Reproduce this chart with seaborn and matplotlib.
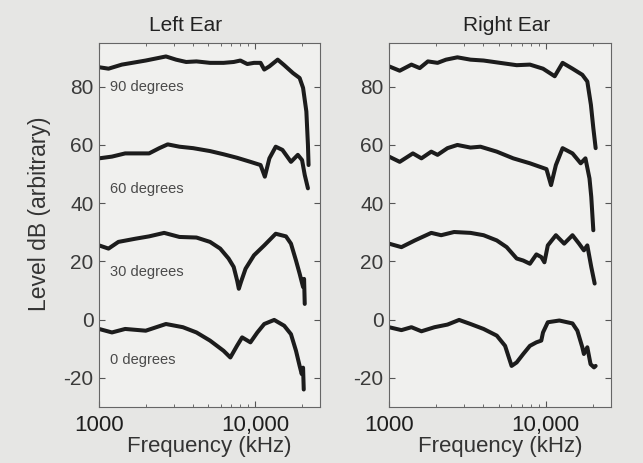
import matplotlib
matplotlib.use("Agg")
import matplotlib.pyplot as plt
import seaborn as sns
import pandas as pd
from matplotlib.ticker import FixedLocator, NullFormatter, LogLocator

# ---------------- data (frequency as labelled on the axis, level in dB) -------------
left_90_f = [1000, 1150, 1400, 1630, 1990, 2310, 2680, 3110, 3610, 4200, 5130, 6260, 7270,
             8020, 8880, 9800, 10800, 11400, 12300, 13900, 15300, 17400, 19200, 20200,
             21200, 21700, 21900]
left_90_db = [86.7, 86.2, 87.6, 88.2, 89.0, 89.7, 90.4, 89.3, 88.5, 88.7, 88.2, 88.2, 88.5,
              89.0, 87.8, 88.2, 88.2, 85.9, 87.0, 89.3, 87.4, 84.7, 83.0, 79.6,
              71.5, 60.0, 53.1]

left_60_f = [1000, 1210, 1470, 2090, 2430, 2750, 3270, 4000, 5130, 6260, 7630, 9300, 10800,
             11500, 12300, 13500, 14900, 16900, 18700, 19900, 20700, 21700]
left_60_db = [55.4, 56.0, 57.1, 57.1, 58.9, 60.2, 59.4, 58.9, 57.9, 56.8, 55.6, 54.2, 53.1,
              49.1, 55.4, 59.4, 58.3, 54.2, 56.6, 54.8, 49.7, 45.1]

left_30_f = [1000, 1150, 1330, 1710, 2090, 2610, 3270, 4200, 5130, 5960, 6740, 7270, 7650,
             7840, 8100, 8660, 9800, 11400, 13500, 15700, 16900, 18200, 19200, 19800, 20200,
             20500, 20700]
left_30_db = [25.5, 24.4, 26.7, 27.8, 28.6, 29.8, 28.4, 28.2, 26.7, 24.4, 21.0, 18.1, 13.4,
              10.6, 13.0, 17.5, 22.1, 25.5, 29.5, 28.6, 26.1, 20.3, 15.8, 13.0, 11.2,
              14.0, 5.4]

left_0_f = [1000, 1210, 1470, 1990, 2680, 3440, 4200, 5130, 6260, 6920, 7630, 8230, 9300,
            10300, 11400, 13200, 15300, 16900, 18200, 19200, 19800, 20200, 20400]
left_0_db = [-3.2, -4.4, -3.2, -3.8, -1.5, -2.6, -4.4, -7.2, -10.7, -13.0, -9.0, -6.1, -7.8,
             -4.4, -1.5, -0.1, -2.1, -5.0, -10.7, -15.9, -18.7, -16.5, -24.0]

right_90_f = [1000, 1170, 1390, 1570, 1770, 2040, 2310, 2730, 3310, 4010, 5110, 6520, 7920,
              9600, 11400, 12800, 14800, 17100, 18400, 19400, 20100, 20800]
right_90_db = [87.0, 85.5, 87.6, 86.4, 88.7, 88.2, 89.3, 90.1, 89.3, 89.0, 88.2, 87.4, 87.6,
               86.2, 83.6, 88.2, 86.2, 84.1, 81.8, 73.8, 65.8, 58.9]

right_60_f = [1000, 1170, 1420, 1610, 1860, 2040, 2360, 2730, 3310, 3830, 4870, 6200, 7920,
              10100, 10800, 11600, 12800, 14800, 16700, 17900, 19000, 19500, 20100]
right_60_db = [56.0, 54.2, 57.1, 55.4, 57.7, 56.6, 58.9, 60.0, 59.1, 59.4, 57.7, 55.4, 53.7,
               51.7, 46.2, 53.1, 58.9, 57.1, 53.7, 55.4, 48.5, 42.2, 30.7]

right_30_f = [1000, 1200, 1460, 1860, 2150, 2600, 3310, 4010, 4870, 5630, 6520, 7180, 7920,
              8710, 9360, 9800, 10300, 11600, 13100, 14800, 16300, 17500, 18400, 19500, 20500]
right_30_db = [26.1, 24.9, 27.2, 29.8, 29.0, 30.1, 29.8, 29.0, 27.2, 24.9, 21.0, 20.3, 19.2,
               22.4, 21.5, 19.7, 25.5, 29.0, 26.1, 29.0, 26.1, 23.8, 25.5, 18.1, 12.4]

right_0_f = [1000, 1200, 1390, 1610, 1950, 2360, 2800, 3310, 4010, 4870, 5500, 6050, 6520,
             7180, 7920, 8710, 9360, 9600, 10300, 12200, 14800, 15900, 17100, 17500, 18400,
             19300, 20300, 20800]
right_0_db = [-2.6, -3.6, -2.6, -4.0, -2.6, -1.7, -0.1, -1.5, -3.2, -5.5, -9.0, -15.9, -14.7,
              -11.8, -9.0, -7.8, -7.2, -4.4, -0.9, -0.3, -1.3, -3.8, -9.5, -11.8, -9.5,
              -15.3, -16.4, -15.9]

angles = ["90 degrees", "60 degrees", "30 degrees", "0 degrees"]
label_levels = [80.0, 44.8, 16.2, -13.8]
panel_titles = ["Left Ear", "Right Ear"]
y_ticks = [-20, 0, 20, 40, 60, 80]
x_ticks = [1000, 10000]
x_tick_labels = ["1000", "10,000"]

# ---------------- build tables ----------------
def frame(ear, angle, f, db):
    return pd.DataFrame({"ear": ear, "angle": angle, "freq": f, "level": db})

df = pd.concat([
    frame("Left Ear", "90", left_90_f, left_90_db),
    frame("Left Ear", "60", left_60_f, left_60_db),
    frame("Left Ear", "30", left_30_f, left_30_db),
    frame("Left Ear", "0", left_0_f, left_0_db),
    frame("Right Ear", "90", right_90_f, right_90_db),
    frame("Right Ear", "60", right_60_f, right_60_db),
    frame("Right Ear", "30", right_30_f, right_30_db),
    frame("Right Ear", "0", right_0_f, right_0_db),
], ignore_index=True)

sns.set_style("ticks")
plt.rcParams["font.family"] = ["Liberation Sans", "DejaVu Sans"]

bg = "#e6e6e4"
fig = plt.figure(figsize=(6.43, 4.63), dpi=100, facecolor=bg)
ax_l = fig.add_axes([0.154, 0.121, 0.344, 0.786])
ax_r = fig.add_axes([0.605, 0.121, 0.345, 0.786])

title_x = [0.39, 0.53]
for ax, ear, tx in zip([ax_l, ax_r], panel_titles, title_x):
    sub = df[df["ear"] == ear]
    sns.lineplot(data=sub, x="freq", y="level", units="angle", estimator=None,
                 sort=False, color="#1c1c1c", linewidth=2.9, ax=ax)
    ax.set_facecolor("#f0f0ee")
    ax.set_xscale("log")
    ax.set_xlim(1000, 26000)
    ax.set_ylim(-30, 95)
    ax.set_yticks(y_ticks)
    ax.set_yticklabels([str(v) for v in y_ticks], fontsize=15, color="#3a3a3a")
    ax.xaxis.set_major_locator(FixedLocator(x_ticks))
    ax.set_xticklabels(x_tick_labels, fontsize=16, color="#1e1e1e")
    ax.xaxis.set_minor_locator(LogLocator(base=10, subs=range(2, 10)))
    ax.xaxis.set_minor_formatter(NullFormatter())
    ax.tick_params(axis="both", which="both", direction="in", top=True, right=True,
                   color="#555555")
    ax.tick_params(axis="both", which="major", length=4, width=0.8, pad=4)
    ax.tick_params(axis="x", which="minor", length=2, width=0.6)
    ax.tick_params(axis="x", which="major", pad=6)
    for s in ax.spines.values():
        s.set_color("#666666")
        s.set_linewidth(0.8)
    ax.set_title(ear, fontsize=15, color="#222222", x=tx, pad=9)
    ax.set_xlabel("Frequency (kHz)", fontsize=16, color="#333333", labelpad=0)
    ax.set_ylabel("")

ax_l.set_ylabel("Level dB (arbitrary)", fontsize=16.5, color="#333333")
ax_l.yaxis.set_label_coords(-0.215, 0.53)

for name, lev in zip(angles, label_levels):
    ax_l.text(1170, lev, name, fontsize=10.5, color="#4a4a4a", va="center", ha="left")

fig.savefig("out.png", dpi=100, facecolor=bg)
